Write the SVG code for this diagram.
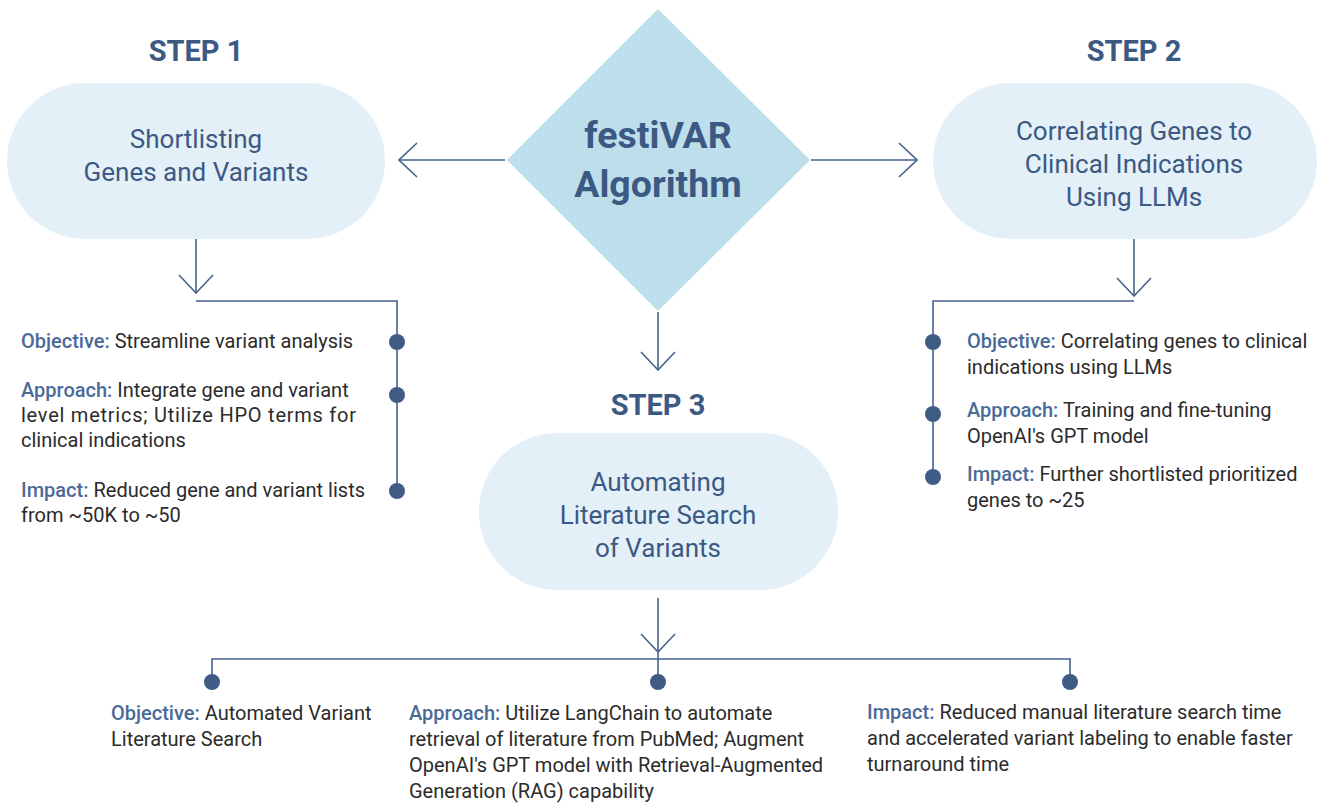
<svg xmlns="http://www.w3.org/2000/svg" width="1318" height="806" viewBox="0 0 1318 806">
<style>
.step{font-family:Roboto,"Liberation Sans",sans-serif;font-size:29px;font-weight:700;fill:#3c5983;text-anchor:middle}
.pill{fill:#e3f0f8}
.pt{font-family:Roboto,"Liberation Sans",sans-serif;font-size:26px;fill:#3c5983;text-anchor:middle}
.dt{font-family:Roboto,"Liberation Sans",sans-serif;font-size:37.5px;font-weight:700;fill:#3c5983;text-anchor:middle}
.body{font-family:Roboto,"Liberation Sans",sans-serif;font-size:20px;fill:#2b2b2b}
.lab{fill:#4a6a98;font-weight:500}
.ln{fill:none;stroke:#46628c;stroke-width:1.6}
.dot{fill:#3f5b86}
</style>
<defs>
<marker id="ah" viewBox="0 0 20 36" refX="19" refY="18" markerWidth="20" markerHeight="36" markerUnits="userSpaceOnUse" orient="auto">
<path d="M1,1 L19,18 L1,35" fill="none" stroke="#46628c" stroke-width="1.6"/>
</marker>
</defs>
<g id="connectors">
<line class="ln" x1="505" y1="160" x2="399" y2="160" marker-end="url(#ah)"/>
<line class="ln" x1="811" y1="160" x2="917" y2="160" marker-end="url(#ah)"/>
<line class="ln" x1="196" y1="239" x2="196" y2="293" marker-end="url(#ah)"/>
<line class="ln" x1="1134" y1="239" x2="1134" y2="296" marker-end="url(#ah)"/>
<line class="ln" x1="658" y1="312" x2="658" y2="370" marker-end="url(#ah)"/>
<line class="ln" x1="658" y1="598" x2="658" y2="652" marker-end="url(#ah)"/>
<polyline class="ln" points="196,301 397,301 397,491"/>
<polyline class="ln" points="1134,301 933,301 933,477"/>
<polyline class="ln" points="212,682 212,659 1070,659 1070,682"/>
<line class="ln" x1="658" y1="652" x2="658" y2="682"/>
</g>
<g id="center">
<polygon points="658,9 810,160 658,311 507,160" fill="#bddfeb"/>
<text class="dt" x="658" y="148">festiVAR</text>
<text class="dt" x="658" y="197">Algorithm</text>
</g>
<g id="step1">
<text class="step" x="196" y="61">STEP 1</text>
<rect class="pill" x="7" y="83" width="378" height="156" rx="78"/>
<text class="pt" x="196" y="148">Shortlisting</text>
<text class="pt" x="196" y="181">Genes and Variants</text>
</g>
<g id="step2">
<text class="step" x="1134" y="61">STEP 2</text>
<rect class="pill" x="933" y="83" width="384" height="156" rx="78"/>
<text class="pt" x="1134" y="140">Correlating Genes to</text>
<text class="pt" x="1134" y="173">Clinical Indications</text>
<text class="pt" x="1134" y="206">Using LLMs</text>
</g>
<g id="step3">
<text class="step" x="658" y="415">STEP 3</text>
<rect class="pill" x="479" y="433" width="359" height="157" rx="78"/>
<text class="pt" x="658" y="491">Automating</text>
<text class="pt" x="658" y="524">Literature Search</text>
<text class="pt" x="658" y="557">of Variants</text>
</g>
<g id="step1-details">
<circle class="dot" cx="397" cy="342" r="8"/>
<circle class="dot" cx="397" cy="395" r="8"/>
<circle class="dot" cx="397" cy="491" r="8"/>
<text class="body" x="21" y="348"><tspan class="lab">Objective:</tspan> Streamline variant analysis</text>
<text class="body" x="21" y="397"><tspan class="lab">Approach:</tspan> Integrate gene and variant</text>
<text class="body" x="21" y="422" textLength="335" lengthAdjust="spacing">level metrics; Utilize HPO terms for</text>
<text class="body" x="21" y="447">clinical indications</text>
<text class="body" x="21" y="497"><tspan class="lab">Impact:</tspan> Reduced gene and variant lists</text>
<text class="body" x="21" y="522">from ~50K to ~50</text>
</g>
<g id="step2-details">
<circle class="dot" cx="933" cy="342" r="8"/>
<circle class="dot" cx="933" cy="414" r="8"/>
<circle class="dot" cx="933" cy="477" r="8"/>
<text class="body" x="967" y="348"><tspan class="lab">Objective:</tspan> Correlating genes to clinical</text>
<text class="body" x="967" y="374">indications using LLMs</text>
<text class="body" x="967" y="417"><tspan class="lab">Approach:</tspan> Training and fine-tuning</text>
<text class="body" x="967" y="443">OpenAI's GPT model</text>
<text class="body" x="967" y="481"><tspan class="lab">Impact:</tspan> Further shortlisted prioritized</text>
<text class="body" x="967" y="507">genes to ~25</text>
</g>
<g id="step3-details">
<circle class="dot" cx="212" cy="682" r="8"/>
<circle class="dot" cx="658" cy="682" r="8"/>
<circle class="dot" cx="1070" cy="682" r="8"/>
<text class="body" x="111" y="720"><tspan class="lab">Objective:</tspan> Automated Variant</text>
<text class="body" x="111" y="746">Literature Search</text>
<text class="body" x="409" y="720"><tspan class="lab">Approach:</tspan> Utilize LangChain to automate</text>
<text class="body" x="409" y="746">retrieval of literature from PubMed; Augment</text>
<text class="body" x="409" y="772">OpenAI's GPT model with Retrieval-Augmented</text>
<text class="body" x="409" y="798">Generation (RAG) capability</text>
<text class="body" x="867" y="719"><tspan class="lab">Impact:</tspan> Reduced manual literature search time</text>
<text class="body" x="867" y="745">and accelerated variant labeling to enable faster</text>
<text class="body" x="867" y="771">turnaround time</text>
</g>
</svg>
